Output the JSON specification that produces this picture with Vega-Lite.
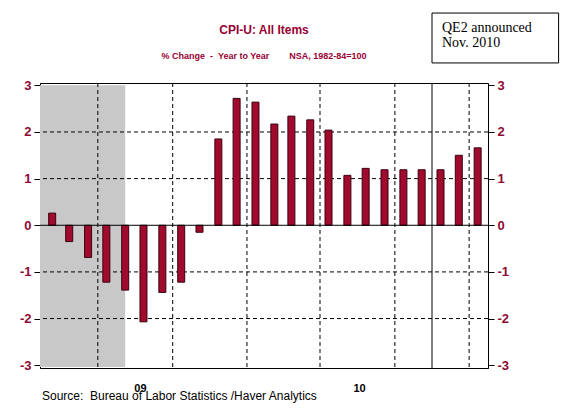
{
  "$schema": "https://vega.github.io/schema/vega-lite/v6.json",
  "width": 448,
  "height": 285,
  "autosize": {"type": "none"},
  "padding": {"left": 40, "top": 83, "right": 97, "bottom": 47},
  "background": "white",
  "datasets": {
    "cpi": [
      {"date": "2009-02-15", "value": 0.26},
      {"date": "2009-03-15", "value": -0.35},
      {"date": "2009-04-15", "value": -0.69},
      {"date": "2009-05-15", "value": -1.22},
      {"date": "2009-06-15", "value": -1.39},
      {"date": "2009-07-15", "value": -2.07},
      {"date": "2009-08-15", "value": -1.44},
      {"date": "2009-09-15", "value": -1.22},
      {"date": "2009-10-15", "value": -0.15},
      {"date": "2009-11-15", "value": 1.85},
      {"date": "2009-12-15", "value": 2.72},
      {"date": "2010-01-15", "value": 2.64},
      {"date": "2010-02-15", "value": 2.17},
      {"date": "2010-03-15", "value": 2.34},
      {"date": "2010-04-15", "value": 2.26},
      {"date": "2010-05-15", "value": 2.04},
      {"date": "2010-06-15", "value": 1.07},
      {"date": "2010-07-15", "value": 1.22},
      {"date": "2010-08-15", "value": 1.19},
      {"date": "2010-09-15", "value": 1.19},
      {"date": "2010-10-15", "value": 1.19},
      {"date": "2010-11-15", "value": 1.19},
      {"date": "2010-12-15", "value": 1.5},
      {"date": "2011-01-15", "value": 1.66}
    ],
    "recession": [
      {"start": "2007-12-01", "end": "2009-06-15"}
    ],
    "ygrid": [
      {"level": -2}, {"level": -1}, {"level": 1}, {"level": 2}
    ],
    "xgrid": [
      {"date": "2009-05-01"}, {"date": "2009-09-01"}, {"date": "2010-01-01"},
      {"date": "2010-05-01"}, {"date": "2010-09-01"}, {"date": "2011-01-01"}
    ]
  },
  "resolve": {"axis": {"y": "independent"}},
  "layer": [
    {
      "data": {"name": "recession"},
      "mark": {"type": "rect", "color": "#C8C8C8", "clip": true},
      "encoding": {
        "x": {"field": "start", "type": "temporal", "axis": null,
              "scale": {"type": "utc", "padding": 0, "domain": [{"year": 2009, "month": 1, "date": 26, "utc": true}, {"year": 2011, "month": 2, "date": 1, "utc": true}]}},
        "x2": {"field": "end"},
        "y": {"datum": 3.0, "type": "quantitative", "axis": null, "scale": {"domain": [-3.06, 3.05]}},
        "y2": {"datum": -3.04}
      }
    },
    {
      "data": {"name": "ygrid"},
      "mark": {"type": "rule", "color": "black", "strokeDash": [4, 3], "strokeWidth": 1},
      "encoding": {
        "y": {"field": "level", "type": "quantitative", "axis": null, "scale": {"domain": [-3.06, 3.05]}}
      }
    },
    {
      "data": {"name": "xgrid"},
      "mark": {"type": "rule", "color": "black", "strokeDash": [4, 3], "strokeWidth": 1},
      "encoding": {
        "x": {"field": "date", "type": "temporal", "axis": null,
              "scale": {"type": "utc", "padding": 0, "domain": [{"year": 2009, "month": 1, "date": 26, "utc": true}, {"year": 2011, "month": 2, "date": 1, "utc": true}]}}
      }
    },
    {
      "data": {"values": [{}]},
      "mark": {"type": "rule", "color": "black", "strokeWidth": 1},
      "encoding": {
        "x": {"datum": {"year": 2010, "month": 11, "date": 1, "utc": true}, "type": "temporal", "axis": null,
              "scale": {"type": "utc", "padding": 0, "domain": [{"year": 2009, "month": 1, "date": 26, "utc": true}, {"year": 2011, "month": 2, "date": 1, "utc": true}]}}
      }
    },
    {
      "data": {"name": "cpi"},
      "mark": {"type": "bar", "width": 7, "fill": "#A00A2C", "stroke": "#3A0010", "strokeWidth": 1},
      "encoding": {
        "x": {
          "field": "date", "type": "temporal",
          "scale": {"type": "utc", "padding": 0, "domain": [{"year": 2009, "month": 1, "date": 26, "utc": true}, {"year": 2011, "month": 2, "date": 1, "utc": true}]},
          "axis": {
            "orient": "bottom",
            "title": null,
            "labels": false,
            "domain": false,
            "grid": false,
            "tickCount": {"interval": "month", "step": 1},
            "tickColor": "black",
            "tickWidth": 1,
            "tickSize": {
              "condition": [
                {"test": "utcmonth(datum.value) === 0", "value": 12},
                {"test": "utcmonth(datum.value) % 3 === 0", "value": 7}
              ],
              "value": 4
            }
          }
        },
        "y": {
          "field": "value", "type": "quantitative",
          "scale": {"domain": [-3.06, 3.05]},
          "axis": {
            "orient": "left",
            "title": null,
            "values": [-3, -2, -1, 0, 1, 2, 3],
            "labelExpr": "datum.value + ''",
            "labelFont": "Liberation Sans",
            "labelFontSize": 13,
            "labelFontWeight": "bold",
            "labelColor": "#8E0B33",
            "labelPadding": 3,
            "tickSize": 6,
            "tickColor": "black",
            "domainColor": "black",
            "grid": false
          }
        }
      }
    },
    {
      "data": {"values": [{}]},
      "mark": {"type": "rule", "color": "black", "strokeWidth": 1},
      "encoding": {
        "y": {
          "datum": 0, "type": "quantitative",
          "scale": {"domain": [-3.06, 3.05]},
          "axis": {
            "orient": "right",
            "title": null,
            "values": [-3, -2, -1, 0, 1, 2, 3],
            "labelExpr": "datum.value + ''",
            "labelFont": "Liberation Sans",
            "labelFontSize": 13,
            "labelFontWeight": "bold",
            "labelColor": "#8E0B33",
            "labelPadding": 3,
            "tickSize": 6,
            "tickColor": "black",
            "domainColor": "black",
            "grid": false
          }
        }
      }
    },
    {
      "data": {"values": [{"label": "09", "date": "2009-07-10"}, {"label": "10", "date": "2010-07-05"}]},
      "mark": {"type": "text", "font": "Liberation Sans", "fontSize": 11, "fontWeight": "bold", "color": "black", "align": "center", "baseline": "alphabetic", "dy": 24},
      "encoding": {
        "x": {"field": "date", "type": "temporal", "axis": null,
              "scale": {"type": "utc", "padding": 0, "domain": [{"year": 2009, "month": 1, "date": 26, "utc": true}, {"year": 2011, "month": 2, "date": 1, "utc": true}]}},
        "y": {"datum": -3.06, "type": "quantitative", "axis": null, "scale": {"domain": [-3.06, 3.05]}},
        "text": {"field": "label"}
      }
    },
    {
      "data": {"values": [{}]},
      "mark": {"type": "text", "font": "Liberation Sans", "fontSize": 12, "color": "black", "align": "left", "baseline": "alphabetic", "dx": 2, "dy": 32},
      "encoding": {
        "x": {"datum": {"year": 2009, "month": 1, "date": 26, "utc": true}, "type": "temporal", "axis": null,
              "scale": {"type": "utc", "padding": 0, "domain": [{"year": 2009, "month": 1, "date": 26, "utc": true}, {"year": 2011, "month": 2, "date": 1, "utc": true}]}},
        "y": {"datum": -3.06, "type": "quantitative", "axis": null, "scale": {"domain": [-3.06, 3.05]}},
        "text": {"value": "Source:\u00a0 Bureau of Labor Statistics /Haver Analytics"}
      }
    },
    {
      "data": {"values": [{}]},
      "mark": {"type": "text", "font": "Liberation Sans", "fontSize": 12, "fontWeight": "bold", "color": "#990033", "align": "center", "baseline": "alphabetic"},
      "encoding": {
        "x": {"datum": {"year": 2010, "month": 1, "date": 29, "utc": true}, "type": "temporal", "axis": null,
              "scale": {"type": "utc", "padding": 0, "domain": [{"year": 2009, "month": 1, "date": 26, "utc": true}, {"year": 2011, "month": 2, "date": 1, "utc": true}]}},
        "y": {"datum": 4.10, "type": "quantitative", "axis": null, "scale": {"domain": [-3.06, 3.05]}},
        "text": {"value": "CPI-U: All Items"}
      }
    },
    {
      "data": {"values": [{}]},
      "mark": {"type": "text", "font": "Liberation Sans", "fontSize": 9, "fontWeight": "bold", "color": "#990033", "align": "center", "baseline": "alphabetic"},
      "encoding": {
        "x": {"datum": {"year": 2010, "month": 1, "date": 29, "utc": true}, "type": "temporal", "axis": null,
              "scale": {"type": "utc", "padding": 0, "domain": [{"year": 2009, "month": 1, "date": 26, "utc": true}, {"year": 2011, "month": 2, "date": 1, "utc": true}]}},
        "y": {"datum": 3.57, "type": "quantitative", "axis": null, "scale": {"domain": [-3.06, 3.05]}},
        "text": {"value": "% Change\u00a0 - \u00a0Year to Year\u00a0\u00a0\u00a0\u00a0\u00a0\u00a0\u00a0 NSA, 1982-84=100"}
      }
    },
    {
      "data": {"values": [{}]},
      "mark": {"type": "rect", "fill": "white", "stroke": "black", "strokeWidth": 1},
      "encoding": {
        "x": {"datum": {"year": 2010, "month": 11, "date": 1, "utc": true}, "type": "temporal", "axis": null,
              "scale": {"type": "utc", "padding": 0, "domain": [{"year": 2009, "month": 1, "date": 26, "utc": true}, {"year": 2011, "month": 2, "date": 1, "utc": true}]}},
        "x2": {"datum": {"year": 2011, "month": 5, "date": 28, "utc": true}},
        "y": {"datum": 4.55, "type": "quantitative", "axis": null, "scale": {"domain": [-3.06, 3.05]}},
        "y2": {"datum": 3.48}
      }
    },
    {
      "data": {"values": [{"line": "QE2 announced", "level": 4.14}, {"line": "Nov. 2010", "level": 3.82}]},
      "mark": {"type": "text", "font": "Liberation Serif", "fontSize": 14, "color": "black", "align": "left", "baseline": "alphabetic", "dx": 10},
      "encoding": {
        "x": {"datum": {"year": 2010, "month": 11, "date": 1, "utc": true}, "type": "temporal", "axis": null,
              "scale": {"type": "utc", "padding": 0, "domain": [{"year": 2009, "month": 1, "date": 26, "utc": true}, {"year": 2011, "month": 2, "date": 1, "utc": true}]}},
        "y": {"field": "level", "type": "quantitative", "axis": null, "scale": {"domain": [-3.06, 3.05]}},
        "text": {"field": "line"}
      }
    }
  ],
  "config": {
    "view": {"stroke": "black", "strokeWidth": 1}
  }
}
